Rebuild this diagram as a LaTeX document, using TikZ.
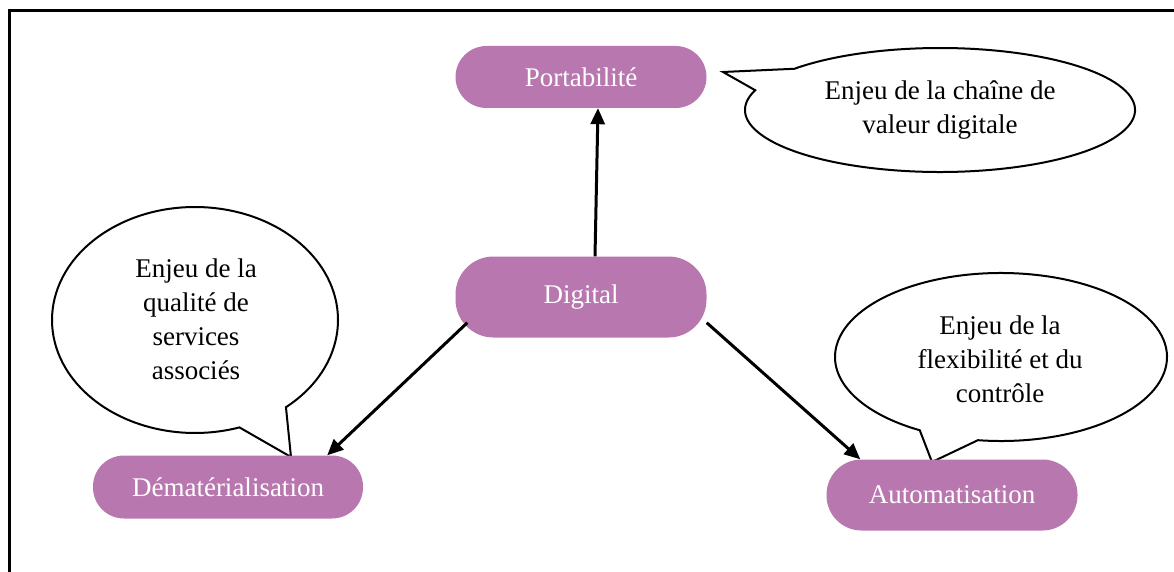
\documentclass[tikz,border=0pt]{standalone}
\usepackage{fontspec}
\setmainfont{Liberation Serif}
\usetikzlibrary{arrows.meta}
\definecolor{pillpurple}{RGB}{184,120,175}

\begin{document}
\begin{tikzpicture}[x=1pt,y=1pt,
	pill/.style={fill=pillpurple, text=white, font=\fontsize{27}{34}\selectfont, inner sep=0pt},
	bubble/.style={draw=black, line width=2pt, fill=white},
	note/.style={align=center, font=\fontsize{27}{34}\selectfont},
	arr/.style={black, line width=3pt, -{Triangle[length=16pt,width=14pt]}}]
	\useasboundingbox (0,0) rectangle (1174,571);
	% Frame
	\draw [black, line width=3pt] (9,-5) -- (9,560) -- (1180,560);
	% Callouts
	\draw [bubble] (940,461) ++(161.4:195 and 62) arc [start angle=161.4, end angle=498.3, x radius=195, y radius=62] -- (723,499) -- cycle;
	\draw [bubble] (195,251) ++(309.5:143 and 113) arc [start angle=309.5, end angle=648.1, x radius=143, y radius=113] -- (291,114) -- cycle;
	\draw [bubble] (1001,214) ++(262:166 and 84) arc [start angle=262, end angle=600.7, x radius=166, y radius=84] -- (932,109) -- cycle;
	\node[note] (chaine)  at (940,461)  {Enjeu de la chaîne de\\valeur digitale};
	\node[note] (qualite) at (196,252)  {Enjeu de la\\qualité de\\services\\associés};
	\node[note] (flex)    at (1000,212) {Enjeu de la\\flexibilité et du\\contrôle};
	% Boxes
	\node[pill, minimum width=251pt, minimum height=62pt, rounded corners=31pt] (port)  at (581,494) {Portabilité};
	\node[pill, minimum width=251pt, minimum height=81pt, rounded corners=38pt] (dig)   at (581,274) {Digital};
	\node[pill, minimum width=270pt, minimum height=63pt, rounded corners=31pt] (demat) at (228,84)  {Dématérialisation};
	\node[pill, minimum width=251pt, minimum height=71pt, rounded corners=35pt] (auto)  at (952,76)  {Automatisation};
	% Arrows
	\draw [arr] ([xshift=14pt]dig.north) -- ([xshift=17pt]port.south);
	\draw [arr] ([xshift=12pt,yshift=15pt]dig.south west) -- ([xshift=-36pt]demat.north east);
	\draw [arr] ([yshift=15pt]dig.south east) -- ([xshift=34pt]auto.north west);
\end{tikzpicture}
\end{document}
